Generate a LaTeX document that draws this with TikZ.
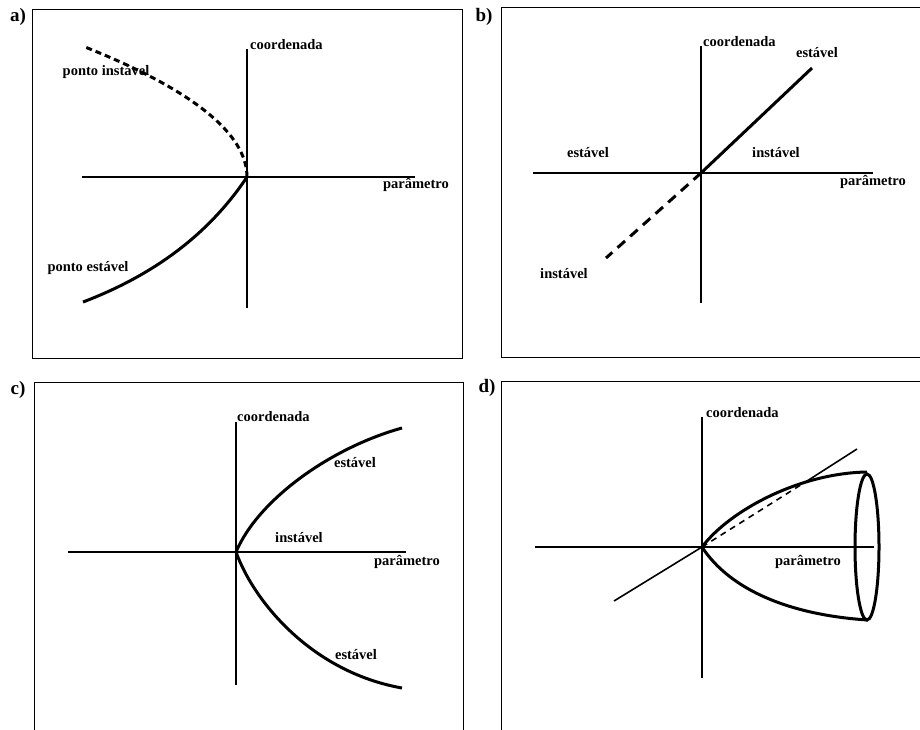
\documentclass[tikz,border=0pt]{standalone}
\usepackage{fontspec}
\setmainfont{Liberation Serif}

\begin{document}
\begin{tikzpicture}[x=1pt,y=-1pt,
    lbl/.style={font=\bfseries\fontsize{14.5}{16}\selectfont, inner sep=0pt},
    tag/.style={font=\bfseries\fontsize{19}{21}\selectfont, inner sep=0pt},
    axis/.style={line width=1.6pt},
    ramo/.style={line width=3pt},
    moldura/.style={line width=1pt}]
    \useasboundingbox (0,0) rectangle (920,729);

    % molduras
    \draw[moldura] (32,9) rectangle (462,358);
    \draw[moldura] (921,7) -- (501,7) -- (501,357) -- (921,357);
    \draw[moldura] (34,730) -- (34,382) -- (463,382) -- (463,730);
    \draw[moldura] (921,381) -- (501,381) -- (501,730);

    \node[tag] (ta) at (18,17) {a)};
    \node[tag] (tb) at (484,17) {b)};
    \node[tag] (tc) at (18,390) {c)};
    \node[tag] (td) at (487,388) {d)};

    % a) sela-no
    \coordinate (oa) at (247,177);
    \draw[axis] (82,177) -- (415,177);
    \draw[axis] (247,49) -- (247,308);
    \draw[ramo, dash pattern=on 6pt off 4pt] (oa) .. controls (247,134) and (193,90) .. (85,47);
    \draw[ramo] (oa) .. controls (209,234) and (154,275) .. (83,302);
    \node[lbl, anchor=west] (ca) at (250,45) {coordenada};
    \node[lbl] (pa) at (416,185) {parâmetro};
    \node[lbl] (ia) at (106,72) {ponto instável};
    \node[lbl] (ea) at (88,268) {ponto estável};

    % b) transcritica
    \coordinate (ob) at (701,173);
    \draw[axis] (533,173) -- (873,173);
    \draw[axis] (701,46) -- (701,303);
    \draw[ramo] (ob) -- (812,68);
    \draw[ramo, dash pattern=on 10pt off 7pt] (ob) -- (606,258);
    \node[lbl, anchor=west] (cb) at (703,42) {coordenada};
    \node[lbl] (pb) at (873,182) {parâmetro};
    \node[lbl] (eb1) at (817,53) {estável};
    \node[lbl] (eb2) at (588,153) {estável};
    \node[lbl] (ib1) at (776,153) {instável};
    \node[lbl] (ib2) at (564,274) {instável};

    % c) forquilha
    \coordinate (oc) at (236,552);
    \draw[axis] (68,552) -- (406,552);
    \draw[axis] (236,422) -- (236,685);
    \draw[ramo] (oc) .. controls (258,500) and (330,448) .. (402,428);
    \draw[ramo] (oc) .. controls (254,602) and (312,672) .. (402,688);
    \node[lbl, anchor=west] (cc) at (237,417) {coordenada};
    \node[lbl] (pc) at (407,562) {parâmetro};
    \node[lbl] (ec1) at (355,463) {estável};
    \node[lbl] (ic) at (299,538) {instável};
    \node[lbl] (ec2) at (356,655) {estável};

    % d) Hopf
    \coordinate (od) at (702,547);
    \coordinate (xd) at (807,481);
    \draw[axis] (535,547) -- (874,547);
    \draw[axis] (702,417) -- (702,678);
    \draw[axis] (614,601) -- (od);
    \draw[axis, dash pattern=on 6pt off 5pt] (od) -- (xd);
    \draw[axis] (xd) -- (857,449);
    \draw[ramo] (od) .. controls (730,510) and (800,473) .. (867,472);
    \draw[ramo] (od) .. controls (730,590) and (790,615) .. (868,620);
    \draw[ramo] (867,547) ellipse [x radius=12, y radius=73];
    \node[lbl, anchor=west] (cd) at (706,413) {coordenada};
    \node[lbl] (pd) at (808,562) {parâmetro};
\end{tikzpicture}
\end{document}
